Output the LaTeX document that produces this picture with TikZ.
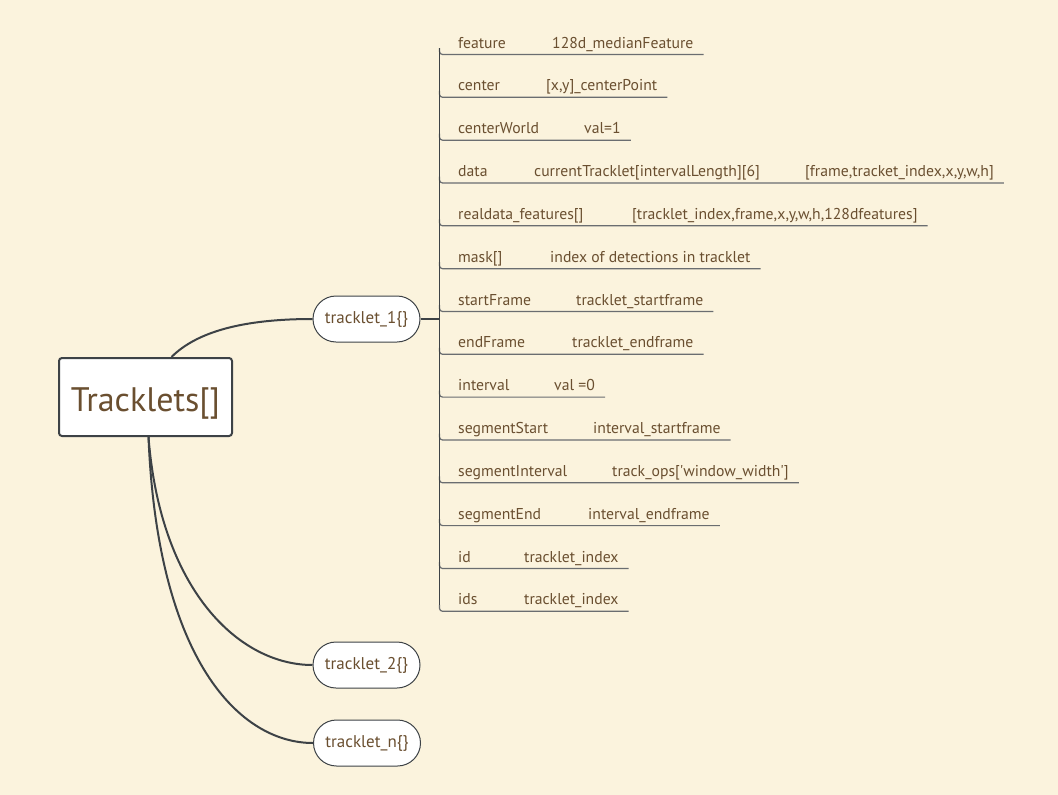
\documentclass[tikz,border=0pt]{standalone}
\usepackage{fontspec}
\setmainfont{PT Sans}
\definecolor{bg}{HTML}{FBF3DD}
\definecolor{ink}{HTML}{6A4F30}
\definecolor{edge}{HTML}{3D4246}
\definecolor{ulc}{HTML}{6A6D70}
\begin{document}
\begin{tikzpicture}[x=1pt,y=-1pt,
  rootbox/.style={draw=edge, line width=2pt, fill=white, rounded corners=3pt,
    minimum width=173pt, minimum height=78pt, inner sep=0pt,
    font=\fontsize{34}{34}\selectfont, text=ink},
  pill/.style={draw=edge, line width=1pt, fill=white, rounded corners=23pt,
    minimum width=107pt, minimum height=46pt, inner sep=0pt,
    font=\fontsize{17}{17}\selectfont, text=ink},
  key/.style={anchor=base west, inner sep=0pt, font=\fontsize{15.7}{15.7}\selectfont, text=ink},
  branch/.style={draw=edge, line width=2pt},
  barline/.style={draw=edge, line width=1.8pt},
  uline/.style={draw=ulc, line width=1.2pt, rounded corners=3pt}]
\fill[bg] (0,0) rectangle (1058,795);
\useasboundingbox (0,0) rectangle (1058,795);

% root and tracklets
\node[rootbox] (root) at (145.5,397) {\raisebox{-14pt}[0pt][0pt]{Tracklets[]}};
\node[pill] (t1) at (366.5,319) {tracklet\_1\{\}};
\node[pill] (t2) at (366.5,665) {tracklet\_2\{\}};
\node[pill] (tn) at (367,743) {tracklet\_n\{\}};

\draw[branch] ([xshift=26pt]root.north) .. controls +(25,-25) and +(-70,0) .. (t1.west);
\draw[branch] ([xshift=3pt]root.south) .. controls +(12,154) and +(-73,0) .. (t2.west);
\draw[branch] ([xshift=3pt]root.south) .. controls +(9,224) and +(-73,0) .. (tn.west);

\coordinate (bar) at (439.5,0);

% fields
\node[key] (k1)  at (458,48.0)  {feature};
\node[key] (v1)  at (552,48.0)  {128d\_medianFeature};
\node[key] (k2)  at (458,90.8)  {center};
\node[key] (v2)  at (546,90.8)  {[x,y]\_centerPoint};
\node[key] (k3)  at (458,133.7) {centerWorld};
\node[key] (v3)  at (584,133.7) {val=1};
\node[key] (k4)  at (458,176.5) {data};
\node[key] (v4)  at (534,176.5) {currentTracklet[intervalLength][6]};
\node[key] (w4)  at (805,176.5) {[frame,tracket\_index,x,y,w,h]};
\node[key] (k5)  at (458,219.3) {realdata\_features[]};
\node[key] (v5)  at (632,219.3) {[tracklet\_index,frame,x,y,w,h,128dfeatures]};
\node[key] (k6)  at (458,262.2) {mask[]};
\node[key] (v6)  at (550,262.2) {index of detections in tracklet};
\node[key] (k7)  at (458,305.0) {startFrame};
\node[key] (v7)  at (576,305.0) {tracklet\_startframe};
\node[key] (k8)  at (458,347.8) {endFrame};
\node[key] (v8)  at (572,347.8) {tracklet\_endframe};
\node[key] (k9)  at (458,390.6) {interval};
\node[key] (v9)  at (554,390.6) {val =0};
\node[key] (k10) at (458,433.5) {segmentStart};
\node[key] (v10) at (593,433.5) {interval\_startframe};
\node[key] (k11) at (458,476.3) {segmentInterval};
\node[key] (v11) at (612,476.3) {track\_ops[\textquotesingle window\_width\textquotesingle]};
\node[key] (k12) at (458,519.1) {segmentEnd};
\node[key] (v12) at (588,519.1) {interval\_endframe};
\node[key] (k13) at (458,562.0) {id};
\node[key] (v13) at (524,562.0) {tracklet\_index};
\node[key] (k14) at (458,604.8) {ids};
\node[key] (v14) at (524,604.8) {tracklet\_index};

% underlines
\foreach \n in {v1,v2,v3,w4,v5,v6,v7,v8,v9,v10,v11,v12,v13,v14}
  \draw[uline] (bar |- \n.base) |- ([xshift=10pt,yshift=-6.5pt]\n.base east);

% bracket bar and link from tracklet_1
\draw[barline] (bar |- k1.base) -- (bar |- k14.base);
\draw[draw=edge, line width=1.4pt] (t1.east) -- (t1.east -| bar);
\end{tikzpicture}
\end{document}
